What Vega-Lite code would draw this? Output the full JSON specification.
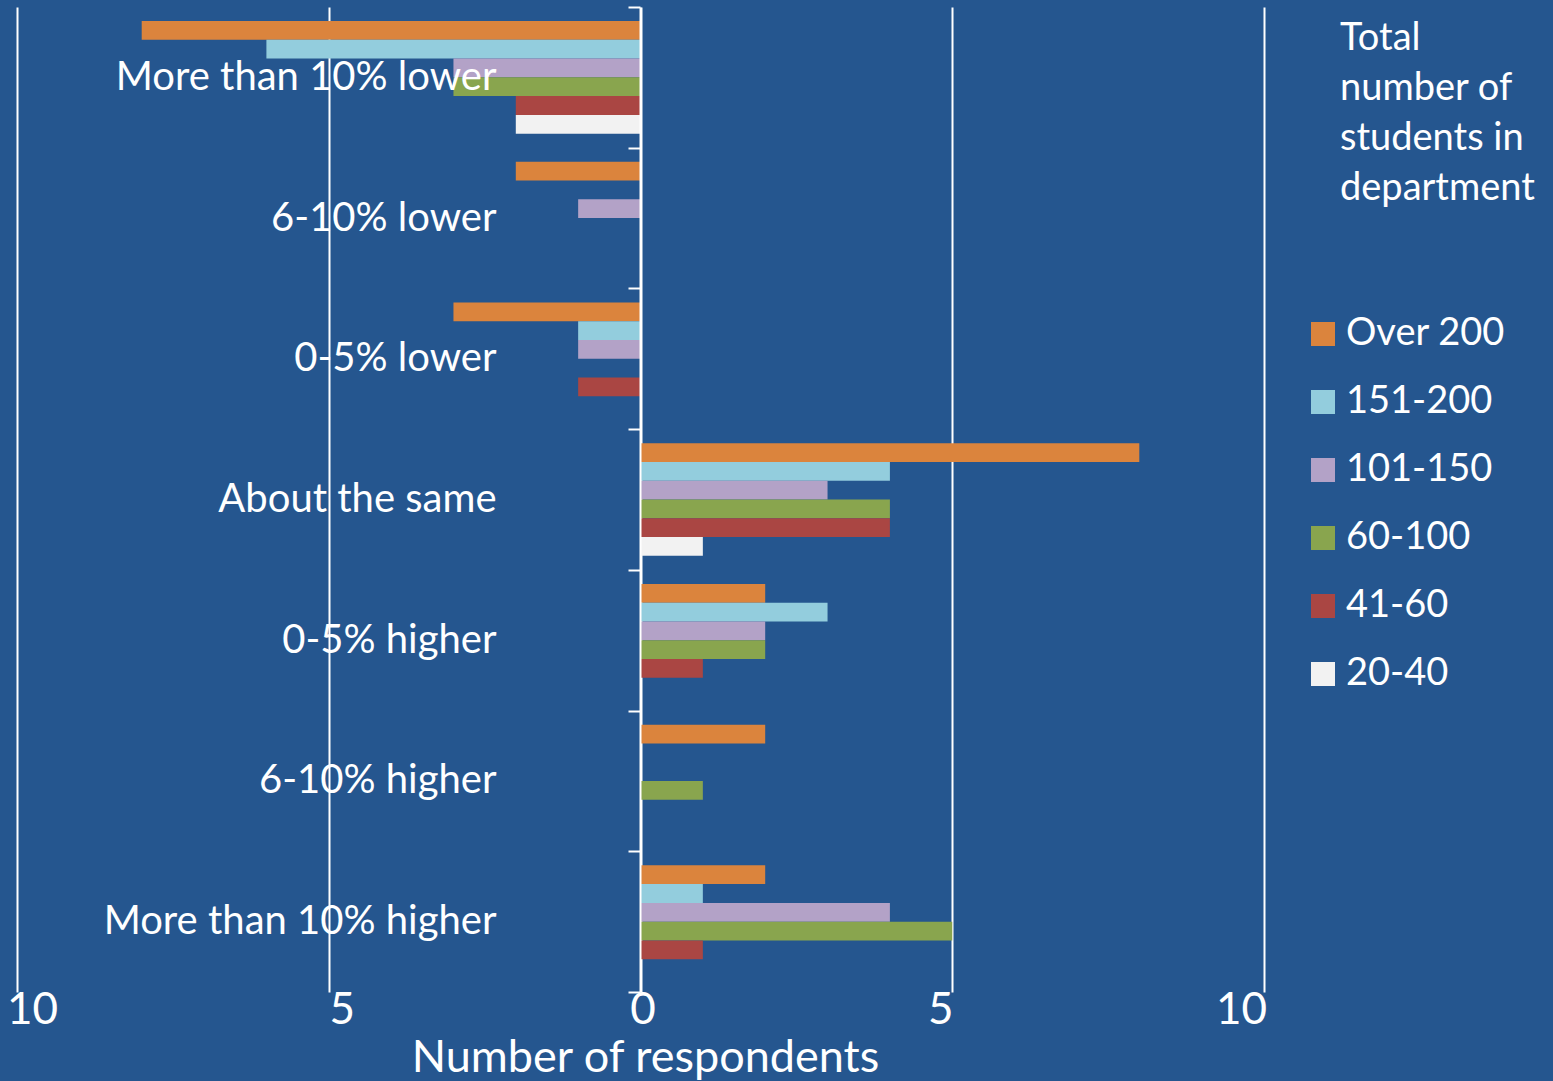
{
  "$schema": "https://vega.github.io/schema/vega-lite/v6.json",
  "width": 1247,
  "height": 985,
  "autosize": {"type": "none"},
  "padding": {"left": 17, "top": 7, "right": 289, "bottom": 89},
  "background": "#25568F",
  "config": {
    "font": "Lato",
    "view": {"stroke": null},
    "axis": {"labelFont": "Lato", "titleFont": "Lato", "labelColor": "white", "titleColor": "white", "titleFontWeight": "normal"},
    "legend": {"labelFont": "Lato", "titleFont": "Lato"}
  },
  "data": {
    "values": [
      {"change": "More than 10% lower", "size": "Over 200", "n": -8},
      {"change": "More than 10% lower", "size": "151-200", "n": -6},
      {"change": "More than 10% lower", "size": "101-150", "n": -3},
      {"change": "More than 10% lower", "size": "60-100", "n": -3},
      {"change": "More than 10% lower", "size": "41-60", "n": -2},
      {"change": "More than 10% lower", "size": "20-40", "n": -2},
      {"change": "6-10% lower", "size": "Over 200", "n": -2},
      {"change": "6-10% lower", "size": "151-200", "n": 0},
      {"change": "6-10% lower", "size": "101-150", "n": -1},
      {"change": "6-10% lower", "size": "60-100", "n": 0},
      {"change": "6-10% lower", "size": "41-60", "n": 0},
      {"change": "6-10% lower", "size": "20-40", "n": 0},
      {"change": "0-5% lower", "size": "Over 200", "n": -3},
      {"change": "0-5% lower", "size": "151-200", "n": -1},
      {"change": "0-5% lower", "size": "101-150", "n": -1},
      {"change": "0-5% lower", "size": "60-100", "n": 0},
      {"change": "0-5% lower", "size": "41-60", "n": -1},
      {"change": "0-5% lower", "size": "20-40", "n": 0},
      {"change": "About the same", "size": "Over 200", "n": 8},
      {"change": "About the same", "size": "151-200", "n": 4},
      {"change": "About the same", "size": "101-150", "n": 3},
      {"change": "About the same", "size": "60-100", "n": 4},
      {"change": "About the same", "size": "41-60", "n": 4},
      {"change": "About the same", "size": "20-40", "n": 1},
      {"change": "0-5% higher", "size": "Over 200", "n": 2},
      {"change": "0-5% higher", "size": "151-200", "n": 3},
      {"change": "0-5% higher", "size": "101-150", "n": 2},
      {"change": "0-5% higher", "size": "60-100", "n": 2},
      {"change": "0-5% higher", "size": "41-60", "n": 1},
      {"change": "0-5% higher", "size": "20-40", "n": 0},
      {"change": "6-10% higher", "size": "Over 200", "n": 2},
      {"change": "6-10% higher", "size": "151-200", "n": 0},
      {"change": "6-10% higher", "size": "101-150", "n": 0},
      {"change": "6-10% higher", "size": "60-100", "n": 1},
      {"change": "6-10% higher", "size": "41-60", "n": 0},
      {"change": "6-10% higher", "size": "20-40", "n": 0},
      {"change": "More than 10% higher", "size": "Over 200", "n": 2},
      {"change": "More than 10% higher", "size": "151-200", "n": 1},
      {"change": "More than 10% higher", "size": "101-150", "n": 4},
      {"change": "More than 10% higher", "size": "60-100", "n": 5},
      {"change": "More than 10% higher", "size": "41-60", "n": 1},
      {"change": "More than 10% higher", "size": "20-40", "n": 0}
    ]
  },
  "mark": {"type": "bar"},
  "encoding": {
    "y": {
      "field": "change",
      "type": "nominal",
      "sort": ["More than 10% lower", "6-10% lower", "0-5% lower", "About the same", "0-5% higher", "6-10% higher", "More than 10% higher"],
      "scale": {"paddingInner": 0, "paddingOuter": 0},
      "axis": {
        "title": null,
        "orient": "left",
        "offset": -623,
        "domainColor": "white",
        "domainWidth": 2,
        "tickColor": "white",
        "tickWidth": 2,
        "tickSize": 12,
        "tickBand": "extent",
        "labelFontSize": 40,
        "labelPadding": 132,
        "labelAlign": "right",
        "labelBaseline": "middle",
        "labelLimit": 0,
        "zindex": 1
      }
    },
    "yOffset": {
      "field": "size",
      "type": "nominal",
      "sort": ["Over 200", "151-200", "101-150", "60-100", "41-60", "20-40"],
      "scale": {"paddingInner": 0, "paddingOuter": 0.75}
    },
    "x": {
      "field": "n",
      "type": "quantitative",
      "scale": {"domain": [-10, 10], "nice": false},
      "axis": {
        "title": "Number of respondents",
        "values": [-10, -5, 0, 5, 10],
        "labelExpr": "abs(datum.value)",
        "grid": true,
        "gridColor": "white",
        "gridWidth": 2,
        "gridOpacity": 1,
        "domain": false,
        "ticks": false,
        "labelFontSize": 44,
        "labelPadding": -4,
        "labelFlush": false,
        "labelOffset": {
          "condition": [
            {"test": "datum.value == -10", "value": 15},
            {"test": "datum.value == -5", "value": 13},
            {"test": "datum.value == 0", "value": 2},
            {"test": "datum.value == 5", "value": -12}
          ],
          "value": -23
        },
        "titleFontSize": 45,
        "titlePadding": 3,
        "titleX": 628
      }
    },
    "color": {
      "field": "size",
      "type": "nominal",
      "sort": ["Over 200", "151-200", "101-150", "60-100", "41-60", "20-40"],
      "scale": {
        "domain": ["Over 200", "151-200", "101-150", "60-100", "41-60", "20-40"],
        "range": ["#DB843D", "#93CDDD", "#B3A2C7", "#89A54E", "#AA4643", "#F2F2F2"]
      },
      "legend": {
        "title": ["Total", "number of", "students in", "department"],
        "orient": "none",
        "legendX": 1323,
        "legendY": 13,
        "padding": 0,
        "titleColor": "white",
        "titleFontSize": 38,
        "titleFontWeight": "normal",
        "titleLineHeight": 50,
        "titleLimit": 0,
        "titlePadding": 107,
        "labelColor": "white",
        "labelFontSize": 38,
        "labelOffset": 4,
        "symbolOffset": -36,
        "symbolType": "square",
        "symbolSize": 576,
        "symbolStrokeWidth": 0,
        "symbolOpacity": 1,
        "rowPadding": 30
      }
    }
  }
}
